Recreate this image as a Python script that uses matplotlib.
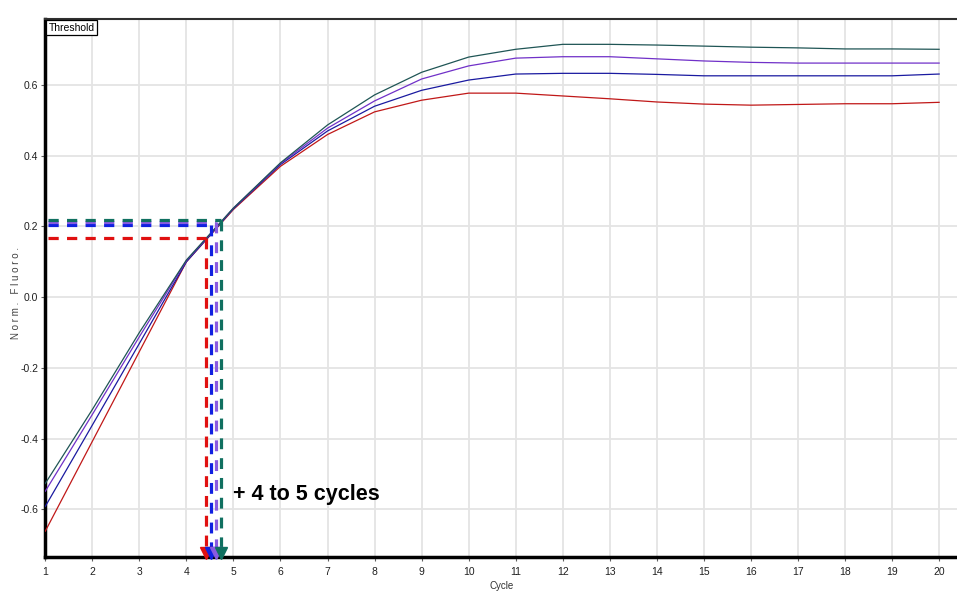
import numpy as np
import matplotlib
matplotlib.use("Agg")
import matplotlib.pyplot as plt

plt.rcParams['font.family'] = ['Liberation Sans', 'DejaVu Sans']

cycles = np.arange(1, 21)

# normalised fluorescence per sample
green = [-0.527, -0.318, -0.100, 0.105, 0.252, 0.380, 0.487, 0.572, 0.636, 0.679,
         0.701, 0.715, 0.715, 0.713, 0.710, 0.707, 0.705, 0.702, 0.702, 0.701]
purple = [-0.549, -0.332, -0.112, 0.103, 0.252, 0.378, 0.478, 0.555, 0.617, 0.654,
          0.676, 0.680, 0.680, 0.674, 0.668, 0.664, 0.662, 0.662, 0.662, 0.662]
blue = [-0.592, -0.362, -0.131, 0.100, 0.250, 0.375, 0.470, 0.540, 0.585, 0.614,
        0.631, 0.633, 0.633, 0.630, 0.626, 0.626, 0.626, 0.626, 0.626, 0.631]
red = [-0.662, -0.408, -0.154, 0.100, 0.248, 0.370, 0.460, 0.524, 0.557, 0.577,
       0.577, 0.569, 0.561, 0.552, 0.546, 0.543, 0.545, 0.547, 0.547, 0.551]

# threshold level and crossing cycle for each sample
thresholds = [0.168, 0.203, 0.212, 0.218]   # red, blue, purple, green
ct_values = [4.42, 4.53, 4.63, 4.73]

curve_colors = ['#c01818', '#1a1aa0', '#7030c8', '#1f5555']
dash_colors = ['#e01010', '#1020e0', '#8a5ae0', '#107060']

fig = plt.figure(figsize=(9.57, 5.92), dpi=100)
ax = fig.add_axes([0.0473, 0.0591, 0.9527, 0.909])

for vals, c in zip([red, blue, purple, green], curve_colors):
    ax.plot(cycles, vals, color=c, lw=0.9, zorder=3)

# threshold dashes and arrows
for thr, ct, c in zip(thresholds, ct_values, dash_colors):
    ax.plot([1.06, ct], [thr, thr], color=c, lw=2.3, dashes=(3.2, 2.6), zorder=4)
    ax.plot([ct, ct], [thr, -0.72], color=c, lw=2.3, dashes=(3.4, 2.8), zorder=4)
    ax.plot([ct], [-0.725], marker='v', color=c, markersize=8, zorder=5, clip_on=False)

ax.set_xlim(1, 20.38)
ax.set_ylim(-0.735, 0.787)
ax.set_xticks(cycles)
ax.set_yticks([-0.6, -0.4, -0.2, 0.0, 0.2, 0.4, 0.6])
ax.set_yticklabels(['-0.6', '-0.4', '-0.2', '0.0', '0.2', '0.4', '0.6'])
ax.grid(True, color='#e4e4e4', lw=1.3, zorder=0)
ax.set_axisbelow(True)

for s in ['left', 'bottom']:
    ax.spines[s].set_linewidth(2.5)
    ax.spines[s].set_color('black')
ax.spines['top'].set_linewidth(1.5)
ax.spines['top'].set_color('#303030')
ax.spines['right'].set_visible(False)

ax.tick_params(axis='both', labelsize=7.5, length=3, width=0.8, color='#606060',
               labelcolor='#202020', pad=2)
ax.tick_params(axis='x', pad=4)

ax.set_xlabel('Cycle', fontsize=7, color='#303030', labelpad=3)
ax.set_ylabel('N o r m .   F l u o r o .', fontsize=7, color='#404040')
ax.yaxis.set_label_coords(-0.027, 0.49)

ax.text(0.0035, 0.993, 'Threshold', transform=ax.transAxes, fontsize=7.5,
        ha='left', va='top',
        bbox=dict(boxstyle='square,pad=0.25', fc='white', ec='black', lw=0.9))

ax.text(4.99, -0.559, '+ 4 to 5 cycles', fontsize=15.5, fontweight='bold',
        ha='left', va='center', color='black', zorder=6)

fig.savefig('out.png', dpi=100)
